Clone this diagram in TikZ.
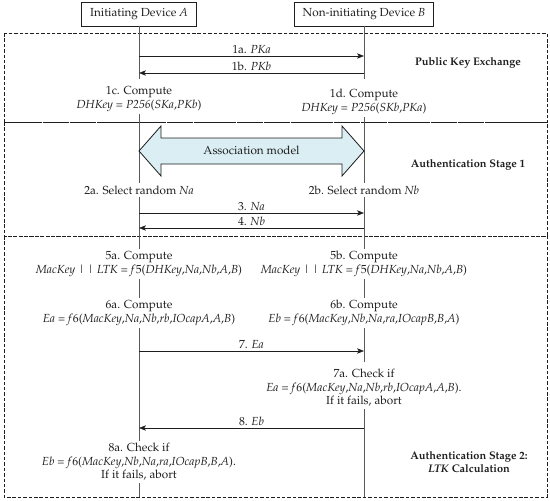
\documentclass[tikz,border=0pt]{standalone}
\usepackage[T1]{fontenc}
\usepackage{mathpazo}
\usepackage{xcolor}
\usepackage{tikz}
\usetikzlibrary{arrows.meta,positioning}
\definecolor{assocblue}{HTML}{DAEEF3}
\definecolor{inkgray}{HTML}{1E1E1E}
\definecolor{linegray}{HTML}{5A5A5A}
\tikzset{
  devbox/.style={draw=inkgray,line width=0.8pt,inner xsep=7pt,minimum height=0.72cm,text=inkgray},
  stagebox/.style={draw=inkgray,dash pattern=on 3pt off 1.6pt,line width=0.8pt},
  lifeline/.style={draw=linegray,line width=0.45pt},
  msgarrow/.style={-{Stealth[length=6pt,width=4.6pt,inset=1.6pt]},draw=inkgray,line width=0.55pt},
  msglabel/.style={above,inner sep=1.5pt,text=inkgray},
  steptext/.style={align=center,inner sep=2pt,text=inkgray,font=\linespread{0.95}\selectfont},
  stagelabel/.style={align=center,font=\fontsize{9.4}{11.5}\selectfont\bfseries,text=inkgray},
}

\begin{document}
\begin{tikzpicture}[x=0.03cm,y=-0.03cm]
        \useasboundingbox (0,0) rectangle (550,501);
        % stages
        \draw[stagebox] (4,33) rectangle (547,122);
        \draw[stagebox] (4,122) rectangle (547,236);
        \draw[stagebox] (4,236) rectangle (547,497);
        \node[stagelabel] (lblpk) at (468,63) {Public Key Exchange};
        \node[stagelabel] (lblas1) at (468,165) {Authentication Stage 1};
        \node[stagelabel] (lblas2) at (469,462) {Authentication Stage 2:\\\textit{LTK} Calculation};
        % devices
        \node[devbox] (devA) at (139,14) {Initiating Device \textit{A}};
        \node[devbox] (devB) at (364,14) {Non-initiating Device \textit{B}};
        % steps
        \node[steptext] (s1c) at (139,99) {1c. Compute\\\textit{DHKey} = \textit{P256}(\textit{SKa},\textit{PKb})};
        \node[steptext] (s1d) at (364,102) {1d. Compute\\\textit{DHKey} = \textit{P256}(\textit{SKb},\textit{PKa})};
        \node[steptext] (s2a) at (139,190) {2a. Select random \textit{Na}};
        \node[steptext] (s2b) at (364,190) {2b. Select random \textit{Nb}};
        \node[steptext] (s5a) at (139,264) {5a. Compute\\\textit{MacKey} \textbar\,\textbar{} \textit{LTK} = \textit{f}5(\textit{DHKey},\textit{Na},\textit{Nb},\textit{A},\textit{B})};
        \node[steptext] (s5b) at (364,264) {5b. Compute\\\textit{MacKey} \textbar\,\textbar{} \textit{LTK} = \textit{f}5(\textit{DHKey},\textit{Na},\textit{Nb},\textit{A},\textit{B})};
        \node[steptext] (s6a) at (139,313) {6a. Compute\\\textit{Ea} = \textit{f}6(\textit{MacKey},\textit{Na},\textit{Nb},\textit{rb},\textit{IOcapA},\textit{A},\textit{B})};
        \node[steptext] (s6b) at (364,313) {6b. Compute\\\textit{Eb} = \textit{f}6(\textit{MacKey},\textit{Nb},\textit{Na},\textit{ra},\textit{IOcapB},\textit{B},\textit{A})};
        \node[steptext] (s7a) at (364,388) {7a. Check if\\\textit{Ea} = \textit{f}6(\textit{MacKey},\textit{Na},\textit{Nb},\textit{rb},\textit{IOcapA},\textit{A},\textit{B}).\\If it fails, abort};
        \node[steptext] (s8a) at (139,462) {8a. Check if\\\textit{Eb} = \textit{f}6(\textit{MacKey},\textit{Nb},\textit{Na},\textit{ra},\textit{IOcapB},\textit{B},\textit{A}).\\If it fails, abort};
        % lifeline ends
        \coordinate (a1) at (139,79);
        \coordinate (b1) at (364,79);
        \coordinate (b7) at (364,362);
        \coordinate (aend) at (139,497);
        \coordinate (bend) at (364,497);
        \foreach \n/\y in {1a/56,1b/73,3/213,4/228,7/351,8/428} {
          \coordinate (mA\n) at (139,\y);
          \coordinate (mB\n) at (364,\y);
        }
        % lifelines
        \draw[lifeline] (devA) -- (a1);
        \draw[lifeline] (s1c) -- (s2a);
        \draw[lifeline] (s2a) -- (s5a);
        \draw[lifeline] (s5a) -- (s6a);
        \draw[lifeline] (s6a) -- (s8a);
        \draw[lifeline] (s8a) -- (aend);
        \draw[lifeline] (devB) -- (b1);
        \draw[lifeline] (s1d) -- (s2b);
        \draw[lifeline] (s2b) -- (s5b);
        \draw[lifeline] (s5b) -- (s6b);
        \draw[lifeline] (s6b) -- (b7);
        \draw[lifeline] (s7a) -- (bend);
        % association model
        \draw[draw=inkgray,fill=assocblue,line width=0.7pt] (139,151) -- (161,126) -- (161,138) -- (342,138) -- (342,126) -- (364,151) -- (342,176) -- (342,164) -- (161,164) -- (161,176) -- cycle;
        \node[text=inkgray] (assoc) at (251.5,150) {Association model};
        % messages
        \draw[msgarrow] (mA1a) -- node[msglabel] {1a. \textit{PKa}} (mB1a);
        \draw[msgarrow] (mB1b) -- node[msglabel] {1b. \textit{PKb}} (mA1b);
        \draw[msgarrow] (mA3) -- node[msglabel] {3. \textit{Na}} (mB3);
        \draw[msgarrow] (mB4) -- node[msglabel] {4. \textit{Nb}} (mA4);
        \draw[msgarrow] (mA7) -- node[msglabel] {7. \textit{Ea}} (mB7);
        \draw[msgarrow] (mB8) -- node[msglabel] {8. \textit{Eb}} (mA8);
      \end{tikzpicture}
\end{document}
